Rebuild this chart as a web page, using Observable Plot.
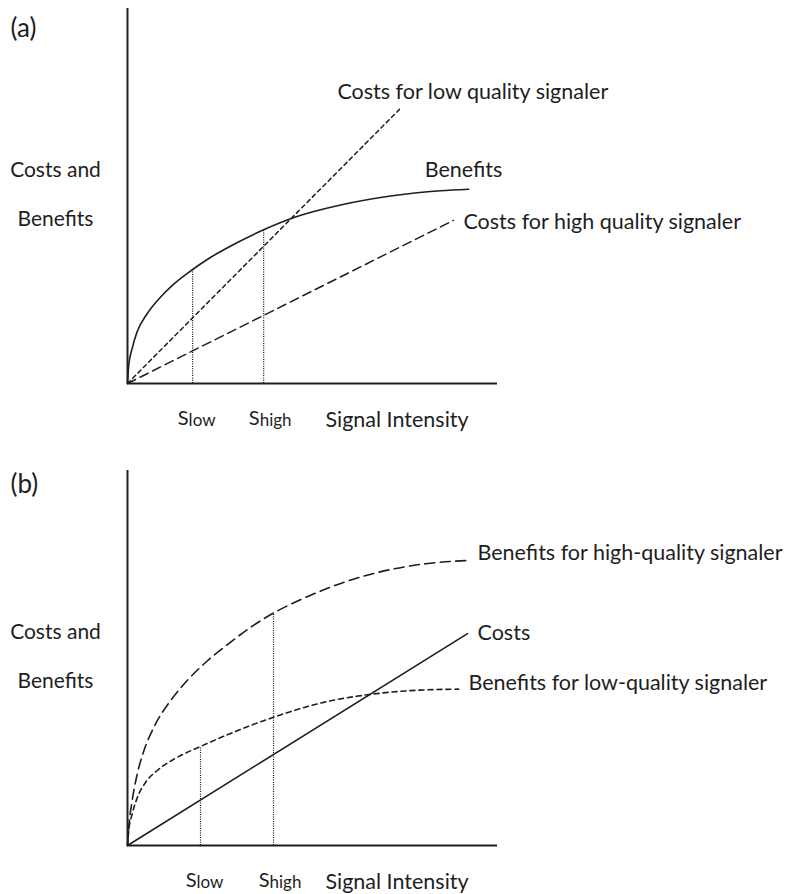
<!DOCTYPE html>
<html>
<head>
<meta charset="utf-8">
<script src="https://cdn.jsdelivr.net/npm/d3@7"></script>
<script src="https://cdn.jsdelivr.net/npm/@observablehq/plot@0.6"></script>
<style>
  html, body { margin: 0; padding: 0; background: #fff; }
  #chart svg { display: block; }
</style>
</head>
<body>
<div id="chart"></div>
<script>
// ---------- Panel (a) values (abstract units) ----------
const aBenefits = [[0,0],[0.035,0.5],[0.13,0.95],[0.26,1.38],[0.53,1.86],[0.89,2.3],[1.25,2.65],[1.76,3.04],[2.24,3.36],[2.97,3.76],[3.68,4.1],[4.54,4.44],[5.76,4.76],[7.11,5.0],[8.46,5.14],[9.22,5.18]];
const aCostLow = [[0,0],[7.35,7.31]];
const aCostHigh = [[0,0],[8.81,4.35]];
const aSignals = [{sub: "low", x: 1.76, top: 3.04}, {sub: "high", x: 3.68, top: 4.1}];
const aLabels = ["Costs for low quality signaler", "Benefits", "Costs for high quality signaler"];

// ---------- Panel (b) values ----------
const bBenefitsHigh = [[0,0],[0.035,0.49],[0.127,1.2],[0.262,1.9],[0.441,2.52],[0.711,3.15],[1.162,3.86],[1.614,4.4],[2.154,4.92],[2.784,5.42],[3.3,5.8],[3.946,6.2],[4.6,6.52],[5.405,6.86],[6.757,7.28],[8.108,7.52],[9.216,7.6]];
const bBenefitsLow = [[0,0],[0.035,0.4],[0.127,0.84],[0.262,1.27],[0.486,1.68],[0.803,2.0],[1.251,2.3],[1.973,2.64],[2.965,3.06],[3.946,3.42],[4.7,3.66],[5.405,3.84],[6.486,4.02],[7.649,4.13],[8.946,4.17]];
const bCosts = [[0,0],[9.19,5.65]];
const bSignals = [{sub: "low", x: 1.973, top: 2.64}, {sub: "high", x: 3.946, top: 6.2}];
const bLabels = ["Benefits for high-quality signaler", "Costs", "Benefits for low-quality signaler"];

const panelTags = ["(a)", "(b)"];
const yTitle = "Costs and\nBenefits";
const xTitle = "Signal Intensity";
const axisExtent = [0, 10];

const FONT = "Lato, 'Open Sans', sans-serif";
const INK = "#1e1e1e";
const FS = 21.5;

function panel({tag, tagDy, marginTop, marginBottom, series, signals}) {
  const marks = [
    Plot.ruleX([0], {y1: axisExtent[0], y2: axisExtent[1], stroke: INK, strokeWidth: 2}),
    Plot.ruleY([0], {x1: axisExtent[0], x2: axisExtent[1], stroke: INK, strokeWidth: 2}),
    Plot.ruleX(signals, {x: "x", y1: 0, y2: "top", stroke: "#111", strokeWidth: 1.2, strokeDasharray: "1,1.3"})
  ];
  for (const s of series) {
    marks.push(Plot.line(s.data, {x: d => d[0], y: d => d[1], curve: "monotone-x", stroke: INK,
      strokeWidth: s.width || 1.6, strokeDasharray: s.dash || null}));
    const last = s.data[s.data.length - 1];
    marks.push(Plot.text([last], {x: d => d[0], y: d => d[1], text: () => s.label, textAnchor: "start",
      dx: s.dx, dy: s.dy, fontSize: FS, fill: INK}));
  }
  marks.push(Plot.text(signals, {x: "x", text: () => "S", frameAnchor: "bottom", textAnchor: "end",
    dx: -4, dy: 41, fontSize: 20, fill: INK}));
  marks.push(Plot.text(signals, {x: "x", text: "sub", frameAnchor: "bottom", textAnchor: "start",
    dx: -4, dy: 42, fontSize: 17, fill: INK}));
  marks.push(Plot.text([xTitle], {x: () => 5.35, text: d => d, frameAnchor: "bottom", textAnchor: "start",
    dy: 43, fontSize: FS, fill: INK}));
  marks.push(Plot.text([yTitle], {text: d => d, frameAnchor: "left", textAnchor: "middle",
    dx: -72, dy: -10, lineHeight: 2.35, fontSize: 21, fill: INK}));
  marks.push(Plot.text([tag], {text: d => d, frameAnchor: "top-left", textAnchor: "start",
    dx: -117, dy: tagDy, fontSize: 26, fill: INK}));

  return Plot.plot({
    width: 787,
    height: 447,
    marginLeft: 127,
    marginRight: 290,
    marginTop,
    marginBottom,
    x: {domain: axisExtent, axis: null},
    y: {domain: axisExtent, axis: null},
    style: {fontFamily: FONT, background: "white", overflow: "visible"},
    marks
  });
}

const chart = document.getElementById("chart");
chart.appendChild(panel({
  tag: panelTags[0], tagDy: 10, marginTop: 8, marginBottom: 64,
  signals: aSignals,
  series: [
    {data: aCostLow, dash: "4,3.5", width: 1.5, label: aLabels[0], dx: -62, dy: -17},
    {data: aBenefits, label: aLabels[1], dx: -44, dy: -19},
    {data: aCostHigh, dash: "9,5", width: 1.5, label: aLabels[2], dx: 10, dy: 2}
  ]
}));
chart.appendChild(panel({
  tag: panelTags[1], tagDy: 4, marginTop: 23, marginBottom: 49,
  signals: bSignals,
  series: [
    {data: bBenefitsHigh, dash: "10,5.5", width: 1.6, label: bLabels[0], dx: 9, dy: -7},
    {data: bCosts, label: bLabels[1], dx: 10, dy: -1},
    {data: bBenefitsLow, dash: "5,4", width: 1.6, label: bLabels[2], dx: 10, dy: -6}
  ]
}));
</script>
</body>
</html>
